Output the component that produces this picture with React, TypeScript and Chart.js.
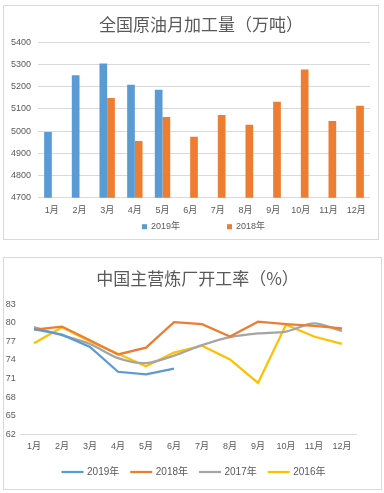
import React, { useEffect, useRef } from "react";
import { Chart, registerables } from "chart.js";

Chart.register(...registerables);

const months = ["1月", "2月", "3月", "4月", "5月", "6月", "7月", "8月", "9月", "10月", "11月", "12月"];

const crude2019 = [4996, 5252, 5304, 5209, 5186, null, null, null, null, null, null, null];
const crude2018 = [null, null, 5149, 4955, 5063, 4975, 5072, 5029, 5132, 5277, 5045, 5114];

const rate2019 = [79.0, 78.1, 76.1, 72.1, 71.7, 72.6, null, null, null, null, null, null];
const rate2018 = [78.9, 79.4, 77.2, 74.9, 76.0, 80.1, 79.8, 77.8, 80.2, 79.8, 79.5, 79.1];
const rate2017 = [79.3, 78.0, 76.6, 74.3, 73.5, 74.7, 76.4, 77.7, 78.3, 78.6, 79.9, 78.7];
const rate2016 = [76.7, 79.3, 77.0, 75.0, 73.0, 75.2, 76.3, 74.1, 70.3, 79.7, 77.8, 76.6];

const TXT = "#595959";
const FONT = '"Liberation Sans", "Noto Sans CJK SC", sans-serif';
const CJK = '"Noto Sans CJK SC", "Liberation Sans", sans-serif';

const customLegend = {
  id: "customLegend",
  afterDraw(chart: any, _args: any, opts: any) {
    if (!opts || !opts.enabled) return;
    const ctx = chart.ctx;
    ctx.save();
    ctx.font = `${opts.fontSize}px ${FONT}`;
    const items = chart.data.datasets.map((d: any) => ({
      text: d.label,
      color: opts.type === "line" ? d.borderColor : d.backgroundColor,
      w: ctx.measureText(d.label).width,
    }));
    const mark = opts.type === "line" ? opts.lineLen : opts.boxSize;
    let total = 0;
    items.forEach((it: any, i: number) => {
      total += mark + opts.gap + it.w + (i < items.length - 1 ? opts.itemGap : 0);
    });
    let x = opts.centerX - total / 2;
    const y = opts.y;
    items.forEach((it: any) => {
      if (opts.type === "line") {
        ctx.strokeStyle = it.color;
        ctx.lineWidth = 2.25;
        ctx.beginPath();
        ctx.moveTo(x, y);
        ctx.lineTo(x + mark, y);
        ctx.stroke();
      } else {
        ctx.fillStyle = it.color;
        ctx.fillRect(x, y - mark / 2, mark, mark);
      }
      x += mark + opts.gap;
      ctx.fillStyle = TXT;
      ctx.textBaseline = "middle";
      ctx.textAlign = "left";
      ctx.fillText(it.text, x, y);
      x += it.w + opts.itemGap;
    });
    ctx.restore();
  },
};

const spacer = (w: number) => ({
  position: "right" as const,
  display: true,
  grid: { display: false, drawTicks: false },
  border: { display: false },
  ticks: { display: false },
  afterFit: (s: any) => { s.width = w; },
});

function BarChart() {
  const ref = useRef<HTMLCanvasElement>(null);
  useEffect(() => {
    const chart = new Chart(ref.current!, {
      type: "bar",
      data: {
        labels: months,
        datasets: [
          { label: "2019年", data: crude2019, backgroundColor: "#5B9BD5", barPercentage: 1, categoryPercentage: 0.556 },
          { label: "2018年", data: crude2018, backgroundColor: "#ED7D31", barPercentage: 1, categoryPercentage: 0.556 },
        ],
      },
      options: {
        animation: false,
        responsive: false,
        layout: { padding: { left: 0, right: -20, top: 0, bottom: 21.3 } },
        plugins: {
          legend: { display: false },
          tooltip: { enabled: false },
          title: {
            display: true,
            text: "全国原油月加工量（万吨）",
            color: TXT,
            font: { family: CJK, size: 17, weight: "normal" },
            padding: { top: 8.8, bottom: 7.1 },
          },
          customLegend: { enabled: true, type: "box", boxSize: 5, gap: 4, itemGap: 47, fontSize: 9, y: 220.7, centerX: 199.5 },
        } as any,
        scales: {
          x: {
            grid: { display: false, drawTicks: false },
            border: { display: false },
            ticks: { color: TXT, font: { family: FONT, size: 9 }, padding: 7, maxRotation: 0, autoSkip: false },
            afterFit: (s: any) => { s.height = 20; },
          },
          y: {
            min: 4700,
            max: 5400,
            grid: { color: "#D9D9D9", drawTicks: false, lineWidth: 1 },
            border: { display: false },
            ticks: { color: TXT, font: { family: FONT, size: 9 }, padding: 7, stepSize: 100, callback: (v: any) => String(v) },
            afterFit: (s: any) => { s.width = 34; },
          },
          yPad: spacer(28),
        } as any,
      },
      plugins: [customLegend],
    });
    return () => chart.destroy();
  }, []);
  return <canvas ref={ref} width={374} height={233} style={{ display: "block", width: 374, height: 233 }} />;
}

function LineChart() {
  const ref = useRef<HTMLCanvasElement>(null);
  useEffect(() => {
    const common = { pointRadius: 0, borderWidth: 2.25, fill: false, spanGaps: false };
    const chart = new Chart(ref.current!, {
      type: "line",
      data: {
        labels: months,
        datasets: [
          { label: "2019年", data: rate2019, borderColor: "#5B9BD5", backgroundColor: "#5B9BD5", ...common },
          { label: "2018年", data: rate2018, borderColor: "#ED7D31", backgroundColor: "#ED7D31", ...common },
          { label: "2017年", data: rate2017, borderColor: "#A5A5A5", backgroundColor: "#A5A5A5", tension: 0.3, ...common },
          { label: "2016年", data: rate2016, borderColor: "#FFC000", backgroundColor: "#FFC000", ...common },
        ],
      },
      options: {
        animation: false,
        responsive: false,
        layout: { padding: { left: 0, right: -10, top: 0, bottom: 34.7 } },
        plugins: {
          legend: { display: false },
          tooltip: { enabled: false },
          title: {
            display: true,
            text: "中国主营炼厂开工率（%）",
            color: TXT,
            font: { family: CJK, size: 17, weight: "normal" },
            padding: { top: 10.8, bottom: 15.1 },
          },
          customLegend: { enabled: true, type: "line", lineLen: 22, gap: 3.5, itemGap: 11, fontSize: 10, y: 214, centerX: 189.5 },
        } as any,
        scales: {
          x: {
            offset: true,
            grid: { display: false, drawTicks: false },
            border: { display: true, color: "#D9D9D9", width: 1 },
            ticks: { color: TXT, font: { family: FONT, size: 9 }, padding: 7, maxRotation: 0, autoSkip: false },
            afterFit: (s: any) => { s.height = 20; },
          },
          y: {
            min: 62,
            max: 83,
            grid: { display: false, drawTicks: false },
            border: { display: false },
            ticks: { color: TXT, font: { family: FONT, size: 9 }, padding: 4.3, stepSize: 3 },
            afterFit: (s: any) => { s.width = 16; },
          },
          yPad: spacer(35),
        } as any,
      },
      plugins: [customLegend],
    });
    return () => chart.destroy();
  }, []);
  return <canvas ref={ref} width={377} height={231} style={{ display: "block", width: 377, height: 231 }} />;
}

export default function App() {
  return (
    <div style={{ position: "absolute", left: 0, top: 0, width: 384, height: 493, background: "#fff" }}>
      <div style={{ position: "absolute", left: 3, top: 5, width: 376, height: 235, boxSizing: "border-box", border: "1px solid #D9D9D9" }}>
        <BarChart />
      </div>
      <div style={{ position: "absolute", left: 3, top: 257, width: 379, height: 233, boxSizing: "border-box", border: "1px solid #D9D9D9" }}>
        <LineChart />
      </div>
    </div>
  );
}
